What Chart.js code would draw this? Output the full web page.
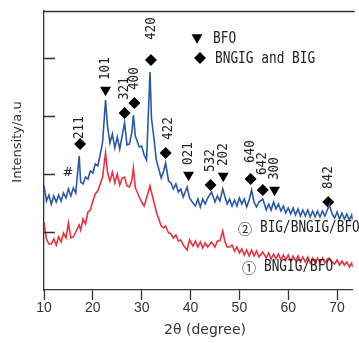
<!DOCTYPE html>
<html>
<head>
<meta charset="utf-8">
<script src="https://cdn.jsdelivr.net/npm/chart.js@4.4.1/dist/chart.umd.min.js"></script>
<style>
  html, body { margin: 0; padding: 0; background: #fff; }
  canvas { display: block; }
</style>
</head>
<body>
<canvas id="xrd" width="359" height="343"></canvas>
<script>
// 2θ (degree) sampling shared by both scans
const angles = [
  10.0, 10.5, 11.0, 11.5, 12.0, 12.5, 13.0, 13.5, 14.0, 14.5,
  15.0, 15.5, 16.0, 16.5, 17.2, 17.5, 18.0, 18.5, 19.0, 19.5,
  20.0, 20.5, 21.0, 21.5, 22.0, 22.6, 23.0, 23.5, 24.0, 24.5,
  25.0, 25.5, 26.0, 26.5, 27.0, 27.5, 28.0, 28.3, 28.7, 29.0,
  29.5, 30.0, 30.5, 31.0, 31.7, 32.0, 32.5, 33.0, 33.5, 34.0,
  34.5, 34.9, 35.5, 36.0, 36.5, 37.0, 37.5, 38.0, 38.5, 39.3,
  39.8, 40.5, 41.0, 41.5, 42.0, 42.5, 43.0, 43.5, 44.3, 45.0,
  45.5, 46.0, 46.6, 47.0, 47.5, 48.0, 48.5, 49.0, 49.5, 50.0,
  50.5, 51.0, 51.5, 52.0, 52.5, 53.0, 53.5, 54.0, 54.8, 55.5,
  56.0, 56.5, 57.0, 57.5, 58.0, 58.5, 59.0, 59.5, 60.0, 60.5,
  61.0, 61.5, 62.0, 62.5, 63.0, 63.5, 64.0, 64.5, 65.0, 65.5,
  66.0, 66.5, 67.0, 67.5, 68.0, 68.4, 69.0, 69.5, 70.0, 70.5,
  71.0, 71.5, 72.0, 72.5, 73.0, 73.2
];

// ② BIG/BNGIG/BFO, offset trace (a.u.)
const scanTwo = [
  104, 89, 95, 86, 94, 88, 95, 89, 97, 92,
  101, 94, 102, 97, 134, 108, 106, 113, 111, 119,
  117, 126, 124, 135, 148, 190, 164, 147, 156, 142,
  153, 141, 154, 167, 145, 146, 158, 175, 154, 150,
  143, 144, 135, 130, 218, 172, 152, 130, 121, 112,
  119, 127, 109, 107, 101, 106, 98, 101, 93, 103,
  92, 87, 84, 91, 83, 91, 86, 92, 98, 88,
  94, 89, 101, 94, 86, 91, 84, 90, 84, 92,
  86, 91, 83, 90, 100, 88, 83, 88, 91, 80,
  86, 80, 88, 81, 86, 79, 84, 77, 82, 76,
  82, 75, 81, 74, 80, 74, 80, 73, 79, 73,
  79, 73, 79, 74, 80, 85, 76, 72, 78, 71,
  77, 71, 76, 70, 75, 70
];

// ① BNGIG/BFO (a.u.)
const scanOne = [
  68, 51, 46, 46, 51, 45, 53, 48, 57, 52,
  67, 52, 53, 58, 65, 60, 71, 66, 78, 80,
  89, 96, 99, 106, 113, 137, 118, 109, 118, 107,
  116, 105, 112, 113, 104, 103, 110, 122, 102, 99,
  93, 88, 84, 92, 104, 98, 88, 78, 71, 64,
  62, 64, 57, 56, 52, 55, 49, 50, 45, 40,
  50, 44, 49, 43, 48, 42, 47, 43, 48, 43,
  49, 49, 59, 49, 43, 43, 45, 39, 43, 37,
  41, 35, 40, 34, 40, 34, 39, 33, 38, 32,
  37, 31, 36, 31, 36, 30, 35, 30, 35, 29,
  34, 29, 34, 28, 33, 28, 33, 27, 32, 27,
  32, 27, 32, 27, 31, 32, 28, 26, 30, 25,
  29, 25, 28, 23, 27, 23
];

// BFO reflections (▼)
const bfoAngles = [22.6, 39.6, 46.7, 57.2];
const bfoLevels = [200, 115, 114, 100];
const bfoHkl = ["101", "021", "202", "300"];

// BNGIG and BIG reflections (◆)
const bigAngles = [17.4, 26.5, 28.5, 31.9, 34.9, 44.1, 52.3, 54.8, 68.2];
const bigLevels = [146, 177, 187, 230, 137, 105, 111, 100, 88];
const bigHkl = ["211", "321", "400", "420", "422", "532", "640", "642", "842"];

const xTicks = [10, 20, 30, 40, 50, 60, 70];
const yTicks = [58, 116, 174, 232];

const axisColor = "#333";
const textColor = "#222";
const mono = "'DejaVu Sans Mono', 'Noto Sans CJK JP', monospace";

const pairs = (xs, ys) => xs.map((x, i) => ({ x: x, y: ys[i] }));

// narrow gothic-looking text: monospace squeezed along the baseline
function narrowText(ctx, text, x, y, size, squeeze, angle) {
  ctx.save();
  ctx.translate(x, y);
  if (angle) ctx.rotate(angle);
  ctx.scale(squeeze, 1);
  ctx.font = size + "px " + mono;
  ctx.fillText(text, 0, 0);
  ctx.restore();
}

// label distance above the marker centre (px)
const liftDefault = { bfo: 10, big: 13 };
const liftFor = { "211": 5, "420": 20, "640": 16, "642": 15 };
const shiftFor = { "422": 3, "211": -1 };

const decorations = {
  id: "decorations",
  afterDraw(chart) {
    const { ctx, chartArea: area, scales } = chart;
    const y = scales.y;
    ctx.save();

    // top edge of the frame and inward ticks on the intensity axis
    ctx.strokeStyle = axisColor;
    ctx.lineWidth = 1.3;
    ctx.beginPath();
    ctx.moveTo(area.left, area.top + 0.5);
    ctx.lineTo(area.right + 2, area.top + 0.5);
    y.ticks.forEach(t => {
      const py = Math.round(y.getPixelForValue(t.value)) + 0.5;
      ctx.moveTo(area.left, py);
      ctx.lineTo(area.left + 11, py);
    });
    ctx.stroke();

    ctx.fillStyle = textColor;
    ctx.textBaseline = "middle";
    ctx.textAlign = "left";

    // hkl labels, rotated, above each marker
    [[2, bfoHkl, liftDefault.bfo], [3, bigHkl, liftDefault.big]].forEach(([idx, names, base]) => {
      chart.getDatasetMeta(idx).data.forEach((pt, i) => {
        const name = names[i];
        const lift = liftFor[name] !== undefined ? liftFor[name] : base;
        const dx = shiftFor[name] || 0;
        narrowText(ctx, name, pt.x + dx, pt.y - lift, 14, 0.9, -Math.PI / 2);
      });
    });

    // unidentified peak
    ctx.textAlign = "center";
    ctx.font = "13px 'DejaVu Sans'";
    ctx.fillText("#", 68, 173);

    // legend
    ctx.fillStyle = "#000";
    Chart.helpers.drawPoint(ctx, { pointStyle: "triangle", rotation: 180, radius: 6.3, borderWidth: 0 }, 197, 37.5);
    Chart.helpers.drawPoint(ctx, { pointStyle: "rectRot", rotation: 0, radius: 6, borderWidth: 0 }, 200, 58);
    ctx.fillStyle = textColor;
    ctx.textAlign = "left";
    narrowText(ctx, "BFO", 213, 39, 16, 0.8);
    narrowText(ctx, "BNGIG and BIG", 215, 58.5, 16, 0.8);

    // sample names next to the traces
    ctx.font = "14px 'Noto Sans CJK JP'";
    ctx.fillText("②", 238, 228.5);
    ctx.fillText("①", 242, 267.5);
    narrowText(ctx, "BIG/BNGIG/BFO", 260, 228.5, 15, 0.85);
    narrowText(ctx, "BNGIG/BFO", 264, 267.5, 15, 0.85);

    // axis titles
    ctx.fillStyle = "#333";
    ctx.textAlign = "center";
    ctx.font = "13px 'DejaVu Sans'";
    ctx.save();
    ctx.translate(18, 142);
    ctx.rotate(-Math.PI / 2);
    ctx.fillText("Intensity/a.u", 0, 0);
    ctx.restore();
    ctx.font = "14px 'DejaVu Sans'";
    ctx.fillText("2θ (degree)", 205, 330);

    ctx.restore();
  }
};

new Chart(document.getElementById("xrd"), {
  type: "line",
  data: {
    datasets: [
      {
        label: "② BIG/BNGIG/BFO",
        data: pairs(angles, scanTwo),
        borderColor: "#2a58a8",
        borderWidth: 1.6,
        pointRadius: 0,
        tension: 0
      },
      {
        label: "① BNGIG/BFO",
        data: pairs(angles, scanOne),
        borderColor: "#e8333d",
        borderWidth: 1.6,
        pointRadius: 0,
        tension: 0
      },
      {
        label: "BFO",
        data: pairs(bfoAngles, bfoLevels),
        showLine: false,
        pointStyle: "triangle",
        rotation: 180,
        pointRadius: 6.3,
        pointBorderWidth: 0,
        pointBackgroundColor: "#000",
        clip: false
      },
      {
        label: "BNGIG and BIG",
        data: pairs(bigAngles, bigLevels),
        showLine: false,
        pointStyle: "rectRot",
        pointRadius: 6,
        pointBorderWidth: 0,
        pointBackgroundColor: "#000",
        clip: false
      }
    ]
  },
  options: {
    responsive: false,
    animation: false,
    devicePixelRatio: 1,
    layout: { padding: { top: 11, right: 0, left: 0, bottom: 0 } },
    plugins: {
      legend: { display: false },
      tooltip: { enabled: false }
    },
    scales: {
      x: {
        type: "linear",
        min: 10,
        max: 73.2,
        afterBuildTicks: scale => { scale.ticks = xTicks.map(v => ({ value: v })); },
        afterFit: scale => { scale.height = 53; },
        grid: {
          drawOnChartArea: false,
          drawTicks: true,
          tickLength: 10,
          tickColor: axisColor,
          tickWidth: 1.3
        },
        border: { display: true, color: axisColor, width: 1.3 },
        ticks: {
          padding: 0,
          maxRotation: 0,
          color: "#333",
          font: { family: "'Liberation Sans'", size: 14 }
        }
      },
      y: {
        min: 0,
        max: 279,
        afterBuildTicks: scale => { scale.ticks = yTicks.map(v => ({ value: v })); },
        afterFit: scale => { scale.width = 44; },
        grid: { display: false },
        border: { display: true, color: axisColor, width: 1.3 },
        ticks: { display: false }
      }
    }
  },
  plugins: [decorations]
});
</script>
</body>
</html>
